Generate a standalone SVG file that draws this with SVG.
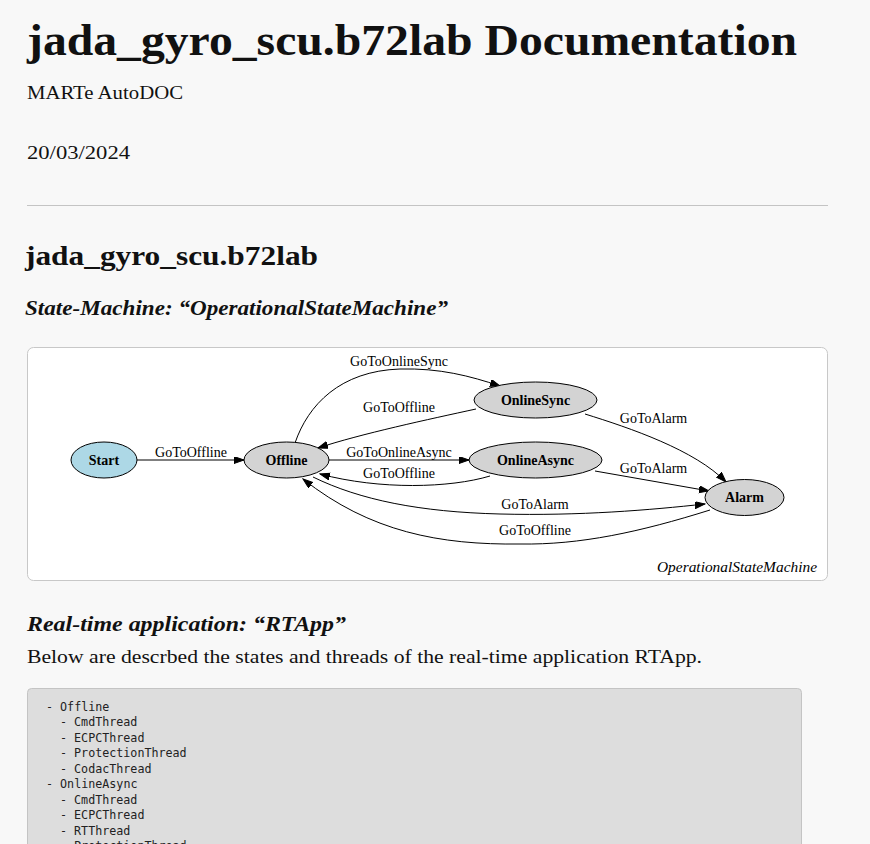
<svg xmlns="http://www.w3.org/2000/svg" width="870" height="844" viewBox="0 0 870 844">
<defs>
<marker id="arr" markerUnits="userSpaceOnUse" markerWidth="11" markerHeight="8" refX="10" refY="3.5" orient="auto">
<path d="M0,0 L10,3.5 L0,7 z" fill="#000" stroke="#000" stroke-width="1"/>
</marker>
<style>
.h{font-family:"Liberation Serif","DejaVu Serif",serif;fill:#111;}
.b{font-family:"Liberation Serif","DejaVu Serif",serif;fill:#111;}
.lbl{font-family:"Liberation Serif","Times New Roman",serif;font-size:14px;fill:#000;}
.nl{font-family:"Liberation Serif","Times New Roman",serif;font-size:14px;font-weight:bold;fill:#000;text-anchor:middle;}
.node{stroke:#000;stroke-width:1;}
.edge{fill:none;stroke:#000;stroke-width:1;marker-end:url(#arr);}
.code{font-family:"DejaVu Sans Mono","Liberation Mono",monospace;font-size:11.7px;fill:#222;white-space:pre;}
</style>
</defs>
<rect x="0" y="0" width="870" height="844" fill="#f8f8f8"/>
<text class="h" x="27" y="55" font-size="44" font-weight="bold" textLength="770" lengthAdjust="spacingAndGlyphs">jada_gyro_scu.b72lab Documentation</text>
<text class="b" x="27" y="99" font-size="18" textLength="156" lengthAdjust="spacingAndGlyphs">MARTe AutoDOC</text>
<text class="b" x="27" y="159" font-size="18" textLength="103" lengthAdjust="spacingAndGlyphs">20/03/2024</text>
<line x1="27" y1="205.5" x2="828" y2="205.5" stroke="#c4c4c4" stroke-width="1"/>
<text class="h" x="25" y="265" font-size="28" font-weight="bold" textLength="293" lengthAdjust="spacingAndGlyphs">jada_gyro_scu.b72lab</text>
<text class="h" x="25" y="315" font-size="22" font-weight="bold" font-style="italic" textLength="423" lengthAdjust="spacingAndGlyphs">State-Machine: “OperationalStateMachine”</text>

<rect x="27.5" y="347.5" width="800" height="233" rx="6" fill="#fff" stroke="#c8c8c8"/>

<g id="connectors">
<path class="edge" d="M137,460 L244,460"/>
<text class="lbl" x="191" y="456.5" text-anchor="middle">GoToOffline</text>
<path class="edge" d="M295,443 C308,405 340,371 400,369 C440,368 470,376 500,386"/>
<text class="lbl" x="399" y="366" text-anchor="middle">GoToOnlineSync</text>
<path class="edge" d="M476,409 C430,419 360,434 318,448"/>
<text class="lbl" x="399" y="411.5" text-anchor="middle">GoToOffline</text>
<path class="edge" d="M329,460 L469,460"/>
<text class="lbl" x="399" y="456.5" text-anchor="middle">GoToOnlineAsync</text>
<path class="edge" d="M490,476 C450,488 380,490 320,474"/>
<text class="lbl" x="399" y="478" text-anchor="middle">GoToOffline</text>
<path class="edge" d="M585,414 C630,428 695,450 726,482"/>
<text class="lbl" x="653.5" y="423" text-anchor="middle">GoToAlarm</text>
<path class="edge" d="M595,471 L709,491"/>
<text class="lbl" x="653.5" y="472.5" text-anchor="middle">GoToAlarm</text>
<path class="edge" d="M313,477 C360,500 420,512 500,514 C580,516 650,510 705,504"/>
<text class="lbl" x="535" y="509" text-anchor="middle">GoToAlarm</text>
<path class="edge" d="M710,510 C640,532 580,545 520,544 C440,545 370,532 303,479"/>
<text class="lbl" x="535" y="535" text-anchor="middle">GoToOffline</text>
</g>

<g id="Start"><ellipse class="node" cx="104" cy="460" rx="33" ry="18" fill="#add8e6"/><text class="nl" x="104" y="464.5">Start</text></g>
<g id="Offline"><ellipse class="node" cx="286.5" cy="460" rx="42.5" ry="18" fill="#d3d3d3"/><text class="nl" x="286.5" y="464.5">Offline</text></g>
<g id="OnlineSync"><ellipse class="node" cx="535.5" cy="400" rx="61.5" ry="18" fill="#d3d3d3"/><text class="nl" x="535.5" y="404.5">OnlineSync</text></g>
<g id="OnlineAsync"><ellipse class="node" cx="535.5" cy="460" rx="66.5" ry="18" fill="#d3d3d3"/><text class="nl" x="535.5" y="464.5">OnlineAsync</text></g>
<g id="Alarm"><ellipse class="node" cx="744.5" cy="497.5" rx="39.5" ry="18" fill="#d3d3d3"/><text class="nl" x="744.5" y="502">Alarm</text></g>

<text class="lbl" x="657" y="572" font-style="italic" textLength="160" lengthAdjust="spacingAndGlyphs">OperationalStateMachine</text>

<text class="h" x="27" y="631" font-size="22" font-weight="bold" font-style="italic" textLength="319" lengthAdjust="spacingAndGlyphs">Real-time application: “RTApp”</text>
<text class="b" x="27" y="663" font-size="19" textLength="675" lengthAdjust="spacingAndGlyphs">Below are descrbed the states and threads of the real-time application RTApp.</text>

<rect x="27.5" y="688.5" width="774" height="170" rx="4" fill="#dddddd" stroke="#c4c4c4"/>
<text class="code" x="46" y="710.5">- Offline</text>
<text class="code" x="60" y="726">- CmdThread</text>
<text class="code" x="60" y="741.5">- ECPCThread</text>
<text class="code" x="60" y="757">- ProtectionThread</text>
<text class="code" x="60" y="772.5">- CodacThread</text>
<text class="code" x="46" y="788">- OnlineAsync</text>
<text class="code" x="60" y="803.5">- CmdThread</text>
<text class="code" x="60" y="819">- ECPCThread</text>
<text class="code" x="60" y="834.5">- RTThread</text>
<text class="code" x="60" y="850">- ProtectionThread</text>
</svg>
